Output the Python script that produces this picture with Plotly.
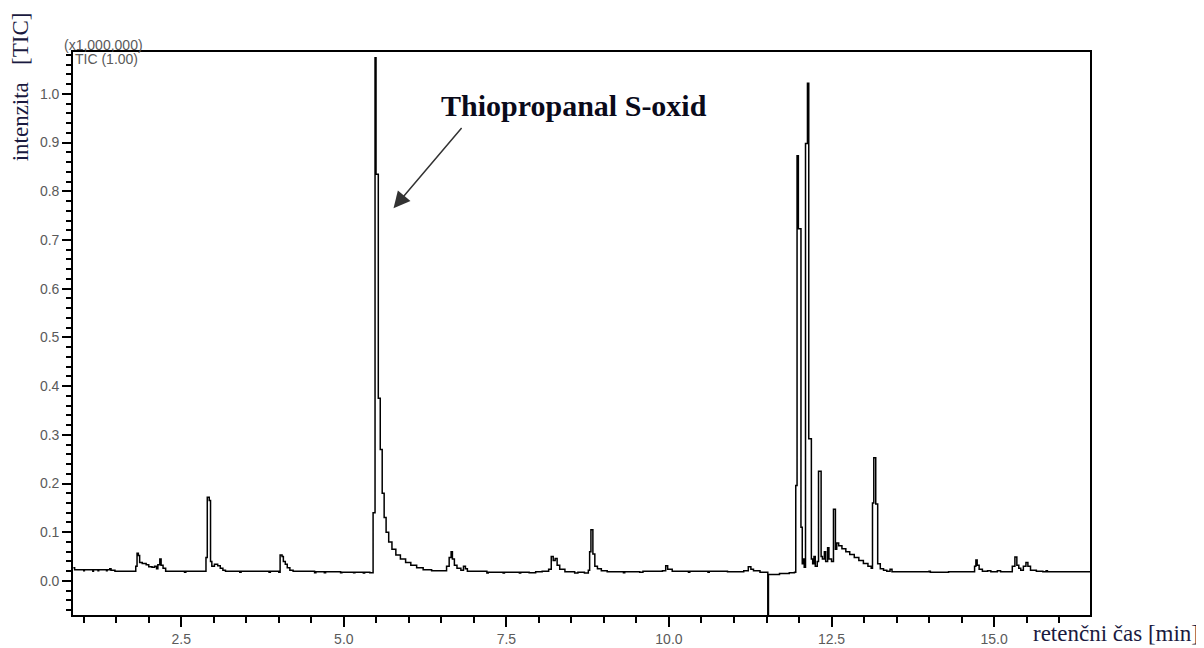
import plotly.graph_objects as go

# ---------------- data (retention time [min], TIC intensity [x1,000,000]) ----------------
rt = [
    0.84, 0.86, 1.00, 1.01, 1.14, 1.15, 1.22, 1.23, 1.35, 1.36, 1.40, 1.42, 1.48, 1.78,
    1.80, 1.82, 1.84, 1.86, 1.90, 1.96, 2.00, 2.05, 2.09, 2.12, 2.14, 2.17, 2.19, 2.22, 2.26,
    2.55, 2.57, 2.86,
    2.88, 2.90, 2.93, 2.95, 2.97, 3.01, 3.06, 3.10, 3.14, 3.18, 3.40, 3.42, 3.85, 3.87, 4.00,
    4.02, 4.05, 4.07, 4.10, 4.13, 4.17, 4.22,
    4.55, 4.57, 4.70, 4.72, 4.95, 4.97, 5.15, 5.17, 5.30, 5.32, 5.40,
    5.45, 5.48, 5.495, 5.53, 5.56, 5.59, 5.62, 5.65, 5.69, 5.74, 5.80, 5.87, 5.95, 6.03, 6.12,
    6.22, 6.35, 6.50,
    6.58, 6.62, 6.65, 6.67, 6.70, 6.74, 6.80, 6.84, 6.87, 6.90,
    7.20, 7.22, 7.45, 7.47, 7.70, 7.72, 7.85, 7.95, 8.05,
    8.15, 8.19, 8.22, 8.25, 8.28, 8.32, 8.40, 8.55, 8.60, 8.70,
    8.76, 8.78, 8.80, 8.83, 8.86, 8.90, 8.96, 9.05,
    9.30, 9.32, 9.55, 9.60, 9.90, 9.95, 9.98, 10.05, 10.30, 10.32, 10.60, 10.62, 10.90,
    11.15, 11.22, 11.26, 11.30, 11.40, 11.52, 11.53, 11.70, 11.85,
    11.93, 11.95, 11.97, 11.99, 12.03, 12.05, 12.07, 12.08, 12.10, 12.13, 12.15, 12.19, 12.21,
    12.23, 12.25, 12.28, 12.30, 12.34, 12.36, 12.39, 12.41, 12.44, 12.46, 12.50, 12.53, 12.56,
    12.58, 12.61, 12.66, 12.72, 12.78, 12.85, 12.92, 12.99, 13.06, 13.11, 13.13, 13.15, 13.18,
    13.21, 13.25, 13.30, 13.35, 13.40, 13.43,
    13.60, 13.80, 14.00, 14.02, 14.30, 14.68, 14.70, 14.72, 14.74, 14.77, 14.82, 14.90, 14.95,
    15.05, 15.10, 15.20, 15.28, 15.32, 15.35, 15.38, 15.41, 15.45, 15.49, 15.52, 15.56, 15.65,
    15.75, 15.80, 15.82, 16.48,
]
tic = [
    0.027, 0.023, 0.021, 0.023, 0.020, 0.023, 0.021, 0.023, 0.021, 0.023, 0.025, 0.022, 0.020, 0.020,
    0.030, 0.057, 0.052, 0.038, 0.036, 0.033, 0.029, 0.028, 0.030, 0.025, 0.033, 0.045, 0.032, 0.026, 0.020,
    0.018, 0.020, 0.020,
    0.048, 0.172, 0.165, 0.040, 0.030, 0.034, 0.031, 0.026, 0.022, 0.020, 0.018, 0.020, 0.018, 0.020, 0.018,
    0.053, 0.050, 0.040, 0.034, 0.027, 0.022, 0.020,
    0.017, 0.019, 0.017, 0.019, 0.017, 0.018, 0.017, 0.018, 0.016, 0.018, 0.017,
    0.140, 1.074, 0.835, 0.375, 0.270, 0.180, 0.130, 0.100, 0.080, 0.065, 0.053, 0.045, 0.038, 0.032, 0.027,
    0.023, 0.021, 0.021,
    0.030, 0.048, 0.060, 0.045, 0.032, 0.026, 0.022, 0.030, 0.025, 0.020,
    0.016, 0.018, 0.016, 0.018, 0.016, 0.018, 0.017, 0.019, 0.020,
    0.024, 0.050, 0.042, 0.046, 0.032, 0.024, 0.019, 0.016, 0.018, 0.016,
    0.022, 0.060, 0.105, 0.055, 0.030, 0.025, 0.021, 0.019,
    0.017, 0.019, 0.018, 0.020, 0.021, 0.031, 0.024, 0.020, 0.018, 0.020, 0.018, 0.020, 0.019,
    0.021, 0.029, 0.024, 0.021, 0.018, -0.100, 0.013, 0.015, 0.017,
    0.018, 0.196, 0.873, 0.723, 0.110, 0.035, 0.045, 0.028, 0.898, 1.022, 0.292, 0.045, 0.035,
    0.050, 0.030, 0.040, 0.225, 0.050, 0.045, 0.060, 0.040, 0.068, 0.045, 0.040, 0.147, 0.065,
    0.078, 0.072, 0.066, 0.060, 0.054, 0.048, 0.042, 0.036, 0.030, 0.026, 0.160, 0.253, 0.158,
    0.035, 0.025, 0.022, 0.020, 0.024, 0.019,
    0.019, 0.019, 0.020, 0.018, 0.019, 0.019, 0.030, 0.043, 0.032, 0.024, 0.020, 0.021, 0.019,
    0.021, 0.019, 0.019, 0.030, 0.049, 0.032, 0.026, 0.022, 0.030, 0.038, 0.030, 0.022, 0.020,
    0.019, 0.021, 0.019, 0.019,
]

x_tick_vals = [2.5, 5.0, 7.5, 10.0, 12.5, 15.0]
x_tick_text = ["2.5", "5.0", "7.5", "10.0", "12.5", "15.0"]
y_tick_vals = [0.0, 0.1, 0.2, 0.3, 0.4, 0.5, 0.6, 0.7, 0.8, 0.9, 1.0]
y_tick_text = ["0.0", "0.1", "0.2", "0.3", "0.4", "0.5", "0.6", "0.7", "0.8", "0.9", "1.0"]

peak_label = "Thiopropanal S-oxid"
x_title = "retenčni čas [min]"
y_title = "intenzita\u00a0\u00a0\u00a0[TIC]"

# ---------------- figure ----------------
fig = go.Figure()
fig.add_trace(go.Scatter(
    x=rt, y=tic, mode="lines", line=dict(color="black", width=1.5, shape="hv"),
    hoverinfo="skip", showlegend=False,
))

tick_font = dict(family="Liberation Sans, Arial, sans-serif", size=14, color="#5a5a5a")

# page body has an 8px default margin, so the figure is sized 8px smaller
fig.update_layout(
    width=1196, height=640,
    margin=dict(l=65, r=114, t=44, b=33),
    paper_bgcolor="white", plot_bgcolor="white",
    showlegend=False,
    xaxis=dict(
        range=[0.835, 16.475], showgrid=False, zeroline=False, automargin=False,
        showline=True, linecolor="black", linewidth=1.6, mirror=True,
        ticks="outside", ticklen=10, tickwidth=1.5, tickcolor="black",
        tickvals=x_tick_vals, ticktext=x_tick_text, tickfont=tick_font,
        minor=dict(dtick=0.5, tick0=0, ticks="outside", ticklen=6, tickwidth=1.5,
                   tickcolor="black", showgrid=False),
    ),
    yaxis=dict(
        range=[-0.07, 1.086], showgrid=False, zeroline=False, automargin=False,
        showline=True, linecolor="black", linewidth=1.6, mirror=True,
        ticks="outside", ticklen=9, tickwidth=1.5, tickcolor="black",
        tickvals=y_tick_vals, ticktext=y_tick_text, tickfont=tick_font,
        minor=dict(dtick=0.02, tick0=0, ticks="outside", ticklen=5, tickwidth=1.5,
                   tickcolor="black", showgrid=False),
    ),
)

# arrow pointing at the main peak
fig.add_annotation(
    x=5.764, y=0.765, ax=6.831, ay=0.933, xref="x", yref="y", axref="x", ayref="y",
    text="", showarrow=True, arrowhead=2, arrowsize=2.2, arrowwidth=1.5, arrowcolor="#333333",
    standoff=0,
)
# peak label
fig.add_annotation(
    x=0.4922, y=0.9046, xref="paper", yref="paper", text=f"<b>{peak_label}</b>",
    showarrow=False, xanchor="center", yanchor="middle",
    font=dict(family="Liberation Serif, Times New Roman, serif", size=30, color="#0a0a1a"),
)
# axis titles
fig.add_annotation(
    x=-0.052, y=0.9374, xref="paper", yref="paper", text=y_title, textangle=-90,
    showarrow=False, xanchor="center", yanchor="middle",
    font=dict(family="Liberation Serif, Times New Roman, serif", size=23, color="#1a1a40"),
)
fig.add_annotation(
    x=1.026, y=-0.032, xref="paper", yref="paper", text=x_title,
    showarrow=False, xanchor="center", yanchor="middle",
    font=dict(family="Liberation Serif, Times New Roman, serif", size=23, color="#1a1a40"),
)
# instrument labels
fig.add_annotation(
    x=-0.0108, y=1.013, xref="paper", yref="paper", text="(x1,000,000)",
    showarrow=False, xanchor="left", yanchor="middle",
    font=dict(family="Liberation Sans, Arial, sans-serif", size=14, color="#5a5a5a"),
)
fig.add_annotation(
    x=0.0, y=0.988, xref="paper", yref="paper", text="TIC (1.00)",
    showarrow=False, xanchor="left", yanchor="middle",
    font=dict(family="Liberation Sans, Arial, sans-serif", size=14, color="#5a5a5a"),
)

fig.write_html("out.html")
